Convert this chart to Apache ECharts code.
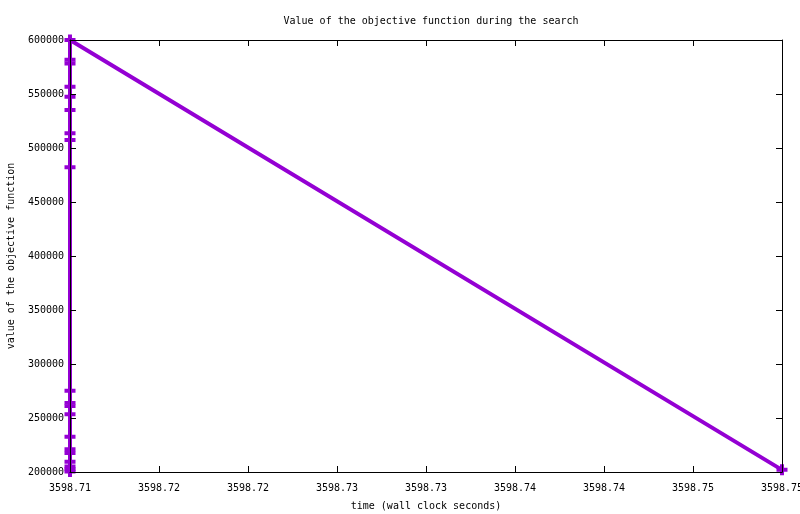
<!DOCTYPE html>
<html>
<head>
<meta charset="utf-8">
<script src="https://cdn.jsdelivr.net/npm/echarts@6/dist/echarts.min.js"></script>
<style>
  html, body { margin: 0; padding: 0; background: #fff; }
  #chart { width: 800px; height: 514px; }
</style>
</head>
<body>
<div id="chart"></div>
<script>
// x axis ticks (gnuplot rounds them to 2 decimals)
const xMin = 3598.71
const xMax = 3598.75
const xStep = 0.005
const xTickLabels = ['3598.71', '3598.72', '3598.72', '3598.73', '3598.73',
  '3598.74', '3598.74', '3598.75', '3598.75']

// objective value samples, in the order they were recorded
const times = [
  3598.71, 3598.71, 3598.71, 3598.71, 3598.71, 3598.71, 3598.71,
  3598.71, 3598.71, 3598.71, 3598.71, 3598.71, 3598.71, 3598.71,
  3598.71, 3598.71, 3598.71, 3598.71, 3598.71, 3598.71, 3598.75
]
const values = [
  200500, 202500, 205000, 209500, 217500, 221000, 232700,
  253400, 261000, 264000, 275300, 482100, 507400, 513600,
  535200, 547500, 556800, 578200, 581700, 600000, 202000
]

const FONT = 'DejaVu Sans Mono'
const PURPLE = '#9400d3'
// thick gnuplot-style "+" marker
const plusPath = 'path://M3.2,0h3.6v3.2h3.2v3.6h-3.2v3.2h-3.6v-3.2h-3.2v-3.6h3.2z'

const chart = echarts.init(document.getElementById('chart'), null, { renderer: 'canvas' })

const xLabel = v => xTickLabels[Math.round((v - xMin) / xStep)] || ''

const axisCommon = {
  axisLine: { show: true, onZero: false, lineStyle: { color: '#000', width: 1 } },
  axisTick: { show: true, inside: true, length: 6, lineStyle: { color: '#000' } },
  splitLine: { show: false },
  z: 5
}

chart.setOption({
  animation: false,
  backgroundColor: '#fff',
  textStyle: { fontFamily: FONT },
  title: {
    text: 'Value of the objective function during the search',
    left: 426,
    textAlign: 'center',
    top: 11,
    textStyle: { fontFamily: FONT, fontSize: 10, fontWeight: 'normal', color: '#000' }
  },
  grid: { left: 70, right: 18, top: 40, bottom: 42, outerBoundsMode: 'none', containLabel: false },
  xAxis: [{
    ...axisCommon,
    type: 'value',
    position: 'bottom',
    min: xMin,
    max: xMax,
    interval: xStep,
    name: 'time (wall clock seconds)',
    nameLocation: 'middle',
    nameGap: 29,
    nameTextStyle: { fontFamily: FONT, fontSize: 10, color: '#000' },
    axisLabel: { formatter: xLabel, margin: 11, fontFamily: FONT, fontSize: 10, color: '#000',
      showMinLabel: true, showMaxLabel: true }
  }, {
    ...axisCommon,
    type: 'value',
    position: 'top',
    min: xMin,
    max: xMax,
    interval: xStep,
    axisLabel: { show: false }
  }],
  yAxis: [{
    ...axisCommon,
    type: 'value',
    position: 'left',
    min: 200000,
    max: 600000,
    interval: 50000,
    name: 'value of the objective function',
    nameLocation: 'middle',
    nameGap: 54,
    nameTextStyle: { fontFamily: FONT, fontSize: 10, color: '#000' },
    axisLabel: { formatter: v => String(v), margin: 6, fontFamily: FONT, fontSize: 10, color: '#000' }
  }, {
    ...axisCommon,
    type: 'value',
    position: 'right',
    min: 200000,
    max: 600000,
    interval: 50000,
    axisLabel: { show: false }
  }],
  series: [{
    type: 'line',
    data: times.map((t, i) => [t, values[i]]),
    clip: false,
    symbol: plusPath,
    symbolSize: 11,
    showAllSymbol: true,
    lineStyle: { color: PURPLE, width: 4 },
    itemStyle: { color: PURPLE },
    z: 2
  }]
})
</script>
</body>
</html>
